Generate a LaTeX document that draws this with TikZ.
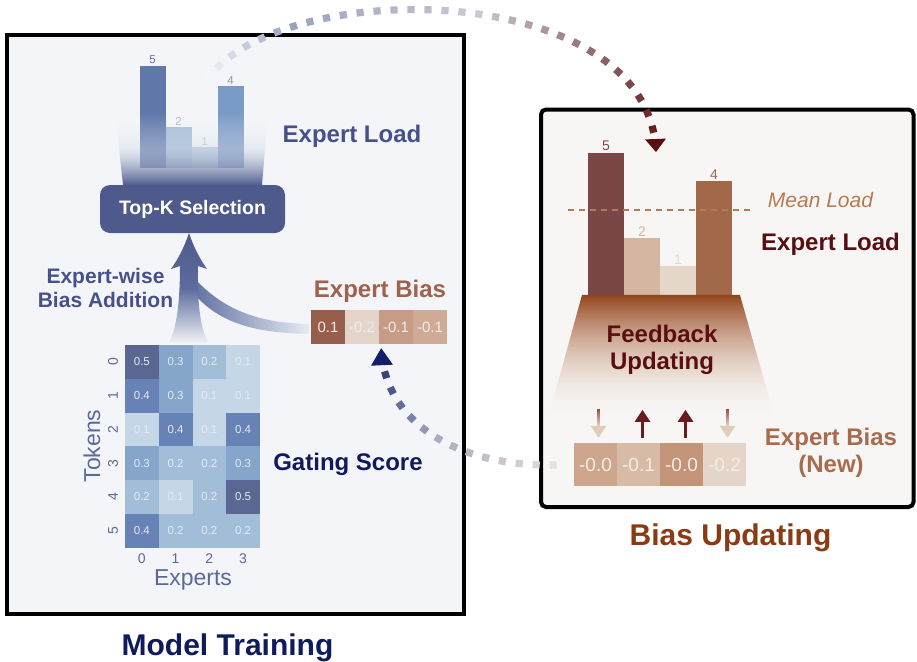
\documentclass[tikz,border=0pt]{standalone}
\usepackage{fontspec}
\setmainfont{Liberation Sans}
\usetikzlibrary{arrows.meta}
\usetikzlibrary{decorations.markings}
\usetikzlibrary{fadings}

\definecolor{panelL}{HTML}{F4F5F8}
\definecolor{panelR}{HTML}{F7F6F5}
\definecolor{tkblue}{HTML}{4E5A8C}
\definecolor{navyA}{HTML}{46518C}
\definecolor{navyB}{HTML}{0F1B5C}
\definecolor{axisc}{HTML}{5A6A98}
\definecolor{biasL}{HTML}{A0624C}
\definecolor{maroon}{HTML}{5A0E12}
\definecolor{titleR}{HTML}{8A3B13}
\definecolor{meanc}{HTML}{B87A52}
\definecolor{biasN}{HTML}{A86B4E}
\definecolor{hmtext}{HTML}{E4EAF2}
\definecolor{celltext}{HTML}{F4ECE6}
\definecolor{hm1}{HTML}{C5D6E6}
\definecolor{hm2}{HTML}{A2BDD8}
\definecolor{hm3}{HTML}{85A5CB}
\definecolor{hm4}{HTML}{6782B4}
\definecolor{hm5}{HTML}{5A6793}
\definecolor{lbar0}{HTML}{5F78A9}
\definecolor{lbar1}{HTML}{A3BCD6}
\definecolor{lbar2}{HTML}{B6CADD}
\definecolor{lbar3}{HTML}{7A9BC6}
\definecolor{rbar0}{HTML}{7B4646}
\definecolor{rbar1}{HTML}{D4B5A0}
\definecolor{rbar2}{HTML}{E6D7CB}
\definecolor{rbar3}{HTML}{A1684A}
\definecolor{bL0}{HTML}{975F4B}
\definecolor{bL1}{HTML}{E4D4CA}
\definecolor{bL2}{HTML}{C79C86}
\definecolor{bL3}{HTML}{CFAA95}
\definecolor{bN0}{HTML}{CEA68D}
\definecolor{bN1}{HTML}{D8BBA6}
\definecolor{bN2}{HTML}{C39477}
\definecolor{bN3}{HTML}{E5D5C8}
\definecolor{upc}{HTML}{6B1A1E}
\definecolor{dndark}{HTML}{98584A}
\definecolor{dnlight}{HTML}{E1CBBB}
\definecolor{lfmid}{HTML}{D0D8E6}
\definecolor{arrmid}{HTML}{5C6C9E}
\definecolor{bandL}{HTML}{6273A4}
\definecolor{bandR}{HTML}{E6EAF1}
\definecolor{fbtop}{HTML}{93461C}
\definecolor{fbmid}{HTML}{C4947A}
\definecolor{fbbot}{HTML}{F2E8E2}

\tikzfading[name=fadeup, top color=transparent!100, bottom color=transparent!0, middle color=transparent!55]
\tikzfading[name=fadedown, top color=transparent!0, bottom color=transparent!100, middle color=transparent!50]

% colour of one square of a dotted arc, from dA (tail) to dD (head)
\newcommand\dotshade{%
  \pgfmathsetmacro\dotpos{max(0,min(100,100-100*(\pgfkeysvalueof{/pgf/decoration/mark info/distance from start}/\pgfdecoratedpathlength)))}%
  \ifdim\dotpos pt<20pt
    \pgfmathsetmacro\dotmix{5*\dotpos}\colorlet{dotc}{dB!\dotmix!dA}%
  \else\ifdim\dotpos pt<55pt
    \pgfmathsetmacro\dotmix{(\dotpos-20)*100/35}\colorlet{dotc}{dC!\dotmix!dB}%
  \else
    \pgfmathsetmacro\dotmix{(\dotpos-55)*100/45}\colorlet{dotc}{dD!\dotmix!dC}%
  \fi\fi}

\begin{document}
\begin{tikzpicture}[x=1pt, y=-1pt,
  lbl/.style={font=\bfseries\fontsize{24}{27}\selectfont, anchor=base},
  ttl/.style={font=\bfseries\fontsize{30}{34}\selectfont, anchor=base},
  panel/.style={draw=black, line width=4pt},
  hmcell/.style={minimum width=33.75, minimum height=33.75, inner sep=0, text=hmtext, font=\fontsize{11.5}{12}\selectfont},
  tick/.style={text=axisc, font=\fontsize{14}{16}\selectfont, anchor=base, inner sep=0},
  lbar/.style={anchor=south, minimum width=26, inner sep=0},
  rbar/.style={anchor=south, minimum width=36, inner sep=0},
  cellL/.style={minimum width=34, minimum height=34, inner sep=0, text=celltext, font=\fontsize{15}{16}\selectfont},
  cellN/.style={minimum width=43, minimum height=43, inner sep=0, text=celltext, font=\fontsize{19}{20}\selectfont},
  uparr/.style={upc, line width=2.6pt, -{Triangle[width=15pt,length=12pt]}},
  dnarr/.style={dnlight, line width=2.6pt, -{Triangle[width=15pt,length=12pt]}},
  dotarc/.style n args={3}{postaction={decorate, decoration={markings,
      mark=at position 0 with {\fill[dD] (0pt,0pt) -- (#1,#2) -- (#1,-#2) -- cycle;},
      mark=between positions #3 and 1 step 17pt with {\dotshade\fill[dotc] (-3.6pt,-3.6pt) rectangle (3.6pt,3.6pt);}}}}
]
\useasboundingbox (0,0) rectangle (917,661);
\fill[white] (0,0) rectangle (917,661);

% panels
\draw[panel, fill=panelL] (7,35) rectangle (463.5,614);
\draw[panel, fill=panelR, rounded corners=5pt] (541,109.5) rectangle (913.5,507);
\node[ttl, text=navyB] (mtitle) at (227.5,655) {Model Training};
\node[ttl, text=titleR] (btitle) at (730.5,545) {Bias Updating};

% left: expert load and top-k
\foreach \h/\col [count=\idx from 0] in {5/lbar0,2/lbar1,1/lbar2,4/lbar3}
  \node[lbar, fill=\col, minimum height=20.4*\h,
        label={[text=\col, font=\fontsize{11.5}{12}\selectfont, inner sep=1.5pt]above:\h}] (lb\idx) at (152.5+26*\idx,168) {};
\shade[top color=white, bottom color=tkblue, middle color=lfmid, path fading=fadeup]
  (115,113) -- (268,113) -- (262,185) -- (123,185) -- cycle;
\node[fill=tkblue, rounded corners=10pt, minimum width=185, minimum height=48, text=white,
      font=\bfseries\fontsize{19.5}{22}\selectfont] (topk) at (192.5,209) {Top-K Selection};
\node[lbl, text=navyA] (loadL) at (352,142) {Expert Load};

% bias addition
\shade[left color=bandL, right color=bandR]
  (195,279) .. controls (225,311) and (260,323) .. (309,324)
  -- (309,334) .. controls (255,333) and (220,323) .. (195,295) -- cycle;
\shade[top color=tkblue, bottom color=panelL, middle color=arrmid]
  (189,233) .. controls (194,248) and (200,259) .. (207,269) -- (198,266)
  .. controls (197,300) and (200,330) .. (209,344) -- (168,344)
  .. controls (177,330) and (180,300) .. (180,266) -- (171,269)
  .. controls (178,259) and (184,248) .. (189,233) -- cycle;
\node[font=\bfseries\fontsize{21}{24}\selectfont, text=navyA, align=center, anchor=base] (addL) at (105.5,307) {Expert-wise\\Bias Addition};
\node[lbl, text=biasL] (biasLbl) at (380,297) {Expert Bias};
\foreach \v/\col [count=\idx from 0] in {0.1/bL0,-0.2/bL1,-0.1/bL2,-0.1/bL3}
  \node[cellL, fill=\col] (b\idx) at (328+34*\idx,327) {\v};

% gating score
\foreach \vals [count=\ri from 0] in {{0.5,0.3,0.2,0.1},{0.4,0.3,0.1,0.1},{0.1,0.4,0.1,0.4},{0.3,0.2,0.2,0.3},{0.2,0.1,0.2,0.5},{0.4,0.2,0.2,0.2}}
  \foreach \v [count=\ci from 0] in \vals {
    \pgfmathtruncatemacro\k{round(10*\v)}
    \node[hmcell, fill=hm\k] (g\ri\ci) at (141.875+33.75*\ci,361.875+33.75*\ri) {\v};
  }
\foreach \ri in {0,...,5}
  \node[tick, rotate=90] (yt\ri) at ([xshift=-7pt]g\ri0.west) {\ri};
\foreach \ci in {0,...,3}
  \node[tick] (xt\ci) at ([yshift=-15.5pt]g5\ci.south) {\ci};
\node[text=axisc, font=\fontsize{23}{26}\selectfont, rotate=90, anchor=base] (tok) at (100,446) {Tokens};
\node[text=axisc, font=\fontsize{23}{26}\selectfont, anchor=base] (expx) at (193,585) {Experts};
\node[lbl, text=navyB] (gate) at (348,470) {Gating Score};

% right: expert load
\foreach \h/\col [count=\idx from 0] in {5/rbar0,2/rbar1,1/rbar2,4/rbar3}
  \node[rbar, fill=\col, minimum height=28.4*\h,
        label={[text=\col, font=\fontsize{14}{15}\selectfont, inner sep=1.5pt]above:\h}] (rb\idx) at (606+36*\idx,295) {};
\draw[meanc, line width=2.5pt, dash pattern=on 6pt off 5pt] (568,210) -- (752,210);
\node[font=\itshape\fontsize{21}{24}\selectfont, text=meanc, anchor=base] (meanL) at (820.5,207) {Mean Load};
\node[lbl, text=maroon] (loadR) at (830.5,250) {Expert Load};

% feedback updating
\shade[top color=fbtop, bottom color=fbbot, middle color=fbmid, path fading=fadedown]
  (582,295) -- (740,295) -- (774,415) -- (549,415) -- cycle;
\node[font=\bfseries\fontsize{24}{27.5}\selectfont, text=maroon, align=center, anchor=base] (fbk) at (662,369.5) {Feedback\\Updating};
\foreach \v/\col [count=\idx from 0] in {-0.0/bN0,-0.1/bN1,-0.0/bN2,-0.2/bN3}
  \node[cellN, fill=\col] (nb\idx) at (595.5+43*\idx,464.5) {\v};
\foreach \idx in {1,2}
  \draw[uparr] ([xshift=4pt,yshift=5pt]nb\idx.north) -- ([xshift=4pt,yshift=33pt]nb\idx.north);
\foreach \idx in {0,3} {
  \draw[dnarr] ([xshift=3pt,yshift=33pt]nb\idx.north) -- ([xshift=3pt,yshift=5pt]nb\idx.north);
  \shade[top color=dndark, bottom color=dnlight] ([xshift=1.7pt,yshift=33pt]nb\idx.north) rectangle ([xshift=4.3pt,yshift=18pt]nb\idx.north);
}
\node[font=\bfseries\fontsize{24}{27}\selectfont, text=biasN, align=center, anchor=base] (newbias) at (831,472) {Expert Bias\\(New)};

% dotted arcs between the panels
\coordinate (upE) at (656,152);
\coordinate (upS) at (203,86);
\begin{scope}
  \colorlet{dA}{white!85!panelL}
  \definecolor{dB}{HTML}{98A2C0}
  \definecolor{dC}{HTML}{CAC8D2}
  \definecolor{dD}{HTML}{5A0E10}
  \path[dotarc={13pt}{10.5pt}{23pt}] (upE) .. controls (649,-25) and (266,-25) .. (upS);
\end{scope}
\coordinate (dnE) at ([xshift=2pt,yshift=-4pt]b1.south east);
\coordinate (dnS) at ([xshift=-8pt]nb0.west);
\begin{scope}
  \definecolor{dA}{HTML}{EEE6E6}
  \definecolor{dB}{HTML}{D6CACE}
  \definecolor{dC}{HTML}{A8ABC4}
  \definecolor{dD}{HTML}{141E6A}
  \path[dotarc={17pt}{11pt}{27pt}] (dnE) .. controls (385,430) and (470,470) .. (dnS);
\end{scope}
\end{tikzpicture}
\end{document}
